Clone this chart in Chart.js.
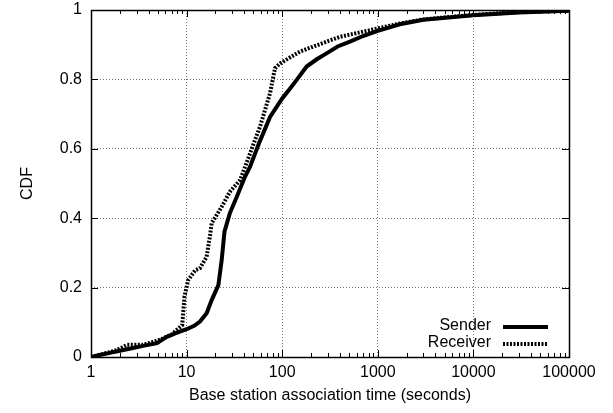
<!DOCTYPE html>
<html>
<head>
<meta charset="utf-8">
<script src="https://cdn.jsdelivr.net/npm/chart.js@4/dist/chart.umd.min.js"></script>
<style>
  html, body { margin: 0; padding: 0; background: #fff; }
  #wrap { width: 613px; height: 413px; }
</style>
</head>
<body>
<div id="wrap"><canvas id="c" width="613" height="413"></canvas></div>
<script>
// association time (s) -> CDF
const senderX = [1, 1.2, 1.58, 2, 2.75, 3.5, 4.9, 6.2, 7.6, 10, 12, 13.8, 16.2, 18.3, 21.5, 23.3, 24.9, 28.3, 33.5, 40.9, 46, 58, 74.6, 100, 121, 143, 180, 230, 291, 380, 511, 700, 1000, 1700, 3000, 10000, 30000, 100000];
const senderY = [0, 0.005, 0.012, 0.018, 0.026, 0.032, 0.04, 0.058, 0.068, 0.080, 0.09, 0.102, 0.126, 0.164, 0.207, 0.28, 0.361, 0.414, 0.462, 0.52, 0.548, 0.62, 0.692, 0.745, 0.774, 0.80, 0.837, 0.858, 0.875, 0.895, 0.909, 0.925, 0.940, 0.959, 0.972, 0.985, 0.993, 0.998];

const receiverX = [1, 1.3, 1.87, 2.38, 3.5, 5.3, 7, 9.0, 9.5, 10.4, 12.3, 13.8, 16.2, 17.5, 18.3, 23.3, 28.3, 36.3, 40.9, 58.6, 74.6, 84, 94.9, 153, 267, 404, 1000, 1700, 3000, 10000, 30000, 100000];
const receiverY = [0, 0.008, 0.02, 0.035, 0.035, 0.05, 0.065, 0.092, 0.174, 0.222, 0.25, 0.256, 0.289, 0.347, 0.386, 0.433, 0.476, 0.51, 0.548, 0.664, 0.76, 0.832, 0.846, 0.88, 0.905, 0.923, 0.947, 0.961, 0.973, 0.986, 0.994, 0.999];

const seriesNames = ["Sender", "Receiver"];
const xTicks = [1, 10, 100, 1000, 10000, 100000];
const yTicks = [0, 0.2, 0.4, 0.6, 0.8, 1];

const FONT = "'Liberation Sans', Arial, sans-serif";

const toPoints = (xs, ys) => xs.map((x, i) => ({ x: x, y: ys[i] }));

// frame, inward ticks and in-plot legend
const gnuplotFrame = {
  id: "gnuplotFrame",
  afterDatasetsDraw(chart) {
    const { ctx, chartArea: a, scales } = chart;
    const xs = scales.x, ys = scales.y;
    ctx.save();
    ctx.strokeStyle = "#000";
    ctx.lineWidth = 1;
    ctx.beginPath();
    // major x ticks
    xTicks.forEach((v) => {
      const px = Math.round(xs.getPixelForValue(v)) + 0.5;
      ctx.moveTo(px, a.bottom); ctx.lineTo(px, a.bottom - 7);
      ctx.moveTo(px, a.top); ctx.lineTo(px, a.top + 7);
    });
    // minor x ticks
    for (let d = 0; d < xTicks.length - 1; d++) {
      for (let m = 2; m < 10; m++) {
        const px = Math.round(xs.getPixelForValue(xTicks[d] * m)) + 0.5;
        ctx.moveTo(px, a.bottom); ctx.lineTo(px, a.bottom - 4);
        ctx.moveTo(px, a.top); ctx.lineTo(px, a.top + 4);
      }
    }
    // y ticks
    yTicks.forEach((v) => {
      const py = Math.round(ys.getPixelForValue(v)) + 0.5;
      ctx.moveTo(a.left, py); ctx.lineTo(a.left + 7, py);
      ctx.moveTo(a.right, py); ctx.lineTo(a.right - 7, py);
    });
    ctx.stroke();
    ctx.lineWidth = 1.5;
    ctx.strokeRect(Math.round(a.left) + 0.5, Math.round(a.top) + 0.5,
      Math.round(a.right - a.left), Math.round(a.bottom - a.top));

    // legend
    ctx.font = "16px " + FONT;
    ctx.textAlign = "right";
    ctx.textBaseline = "middle";
    ctx.fillStyle = "#000";
    chart.data.datasets.forEach((ds, i) => {
      const y = a.bottom - 31 + i * 17;
      ctx.fillText(ds.label, a.right - 78, y);
      ctx.beginPath();
      ctx.lineWidth = ds.borderWidth;
      ctx.setLineDash(ds.borderDash || []);
      ctx.moveTo(a.right - 66, y + 1);
      ctx.lineTo(a.right - 21, y + 1);
      ctx.stroke();
    });
    ctx.restore();
  }
};

new Chart(document.getElementById("c"), {
  type: "line",
  data: {
    datasets: [
      {
        label: seriesNames[0],
        data: toPoints(senderX, senderY),
        borderColor: "#000",
        borderWidth: 4,
        pointRadius: 0,
        tension: 0
      },
      {
        label: seriesNames[1],
        data: toPoints(receiverX, receiverY),
        borderColor: "#000",
        borderWidth: 4,
        borderDash: [2, 1.5],
        pointRadius: 0,
        tension: 0
      }
    ]
  },
  options: {
    responsive: false,
    animation: false,
    layout: { padding: { top: 10, right: 44, left: 0, bottom: 0 } },
    plugins: {
      legend: { display: false },
      tooltip: { enabled: false }
    },
    scales: {
      x: {
        type: "logarithmic",
        min: 1,
        max: 100000,
        afterBuildTicks: (scale) => { scale.ticks = xTicks.map((v) => ({ value: v })); },
        afterFit: (scale) => { scale.height = 56; },
        ticks: {
          autoSkip: false,
          maxRotation: 0,
          padding: 6,
          color: "#000",
          font: { family: FONT, size: 16 },
          callback: (v) => String(v)
        },
        grid: { color: "#777", lineWidth: 1, drawTicks: false },
        border: { display: false, dash: [1, 2] },
        title: {
          display: true,
          text: "Base station association time (seconds)",
          color: "#000",
          font: { family: FONT, size: 16 },
          padding: { top: 0, bottom: 8 }
        }
      },
      y: {
        min: 0,
        max: 1,
        afterBuildTicks: (scale) => { scale.ticks = yTicks.map((v) => ({ value: v })); },
        afterFit: (scale) => {
          scale.width = 91;
          scale.paddingTop = 0;
          scale.paddingBottom = 0;
        },
        ticks: {
          padding: 9,
          color: "#000",
          font: { family: FONT, size: 16 },
          callback: (v) => String(Number(v.toFixed(1)))
        },
        grid: { color: "#777", lineWidth: 1, drawTicks: false },
        border: { display: false, dash: [1, 2] },
        title: {
          display: true,
          text: "CDF",
          color: "#000",
          font: { family: FONT, size: 16 },
          padding: { top: 18, bottom: 0 }
        }
      }
    }
  },
  plugins: [gnuplotFrame]
});
</script>
</body>
</html>
